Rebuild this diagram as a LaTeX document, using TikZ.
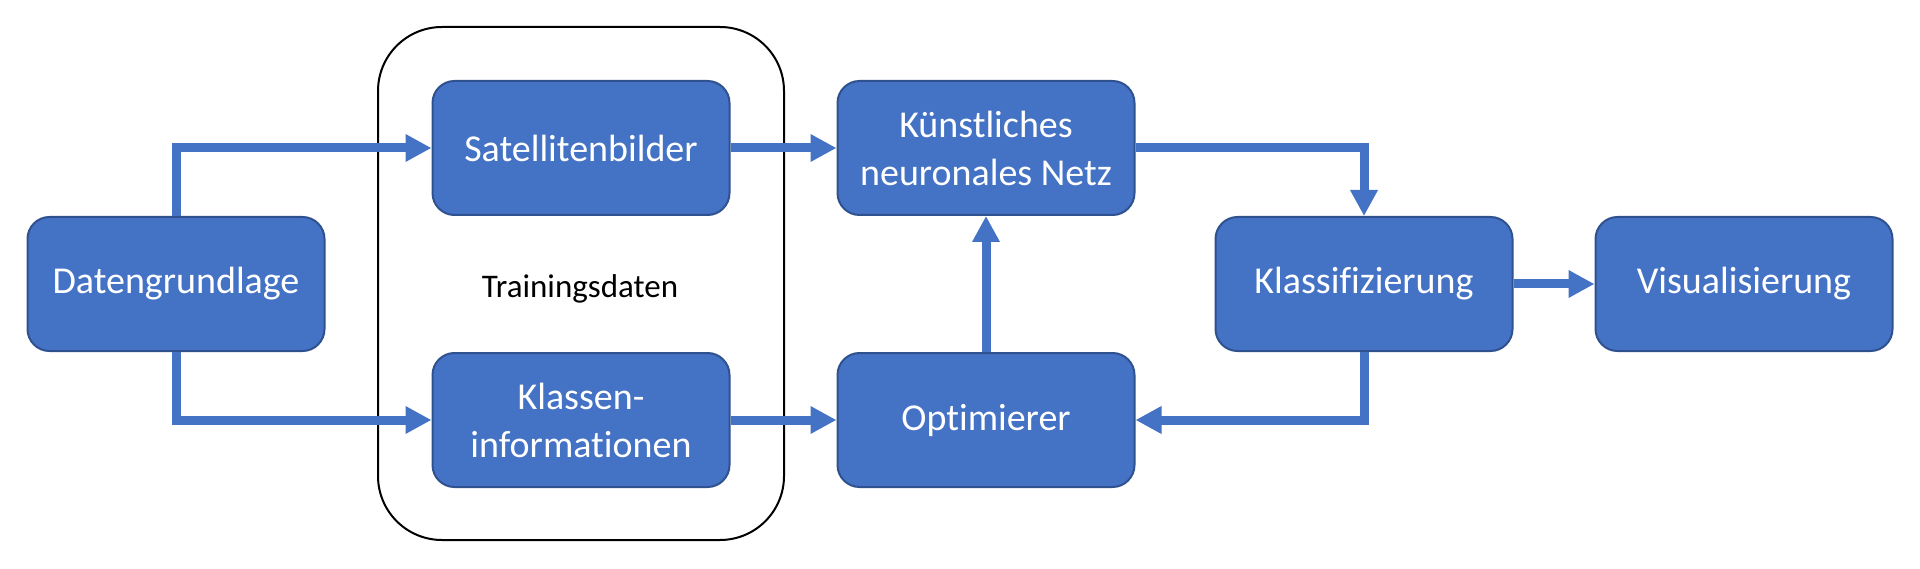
\documentclass[tikz,border=0pt]{standalone}
\usepackage{fontspec}
\setmainfont{Carlito}[Ligatures=NoCommon]
\usepackage{tikz}
\usetikzlibrary{arrows.meta}

\definecolor{boxblue}{HTML}{4472C4}
\definecolor{boxline}{HTML}{2F528F}

\begin{document}
\begin{tikzpicture}[x=1pt, y=1pt,
		block/.style={draw=boxline, line width=1pt, fill=boxblue, rounded corners=11pt,
			minimum width=148.5pt, minimum height=67pt, inner sep=0pt, align=center,
			text=white, font=\fontsize{19}{24}\selectfont},
		flow/.style={draw=boxblue, line width=4.5pt, line join=miter,
			-{Triangle[length=13pt, width=13pt]}}]
		\useasboundingbox (0, 0) rectangle (960, 284);

		% Trainingsdaten
		\draw[line width=1pt, rounded corners=32pt] (189, 14) rectangle (392, 270.5);
		\node (train) at (290, 139.5) {\fontsize{16.5}{20}\selectfont Trainingsdaten};

		\node[block] (dat) at (88, 142) {Datengrundlage};
		\node[block] (sat) at (290.5, 210) {Satellitenbilder};
		\node[block] (kla) at (290.5, 74) {Klassen-\\informationen};
		\node[block] (knn) at (493, 210) {Künstliches\\neuronales Netz};
		\node[block] (opt) at (493, 74) {Optimierer};
		\node[block] (klf) at (682, 142) {Klassifizierung};
		\node[block] (vis) at (872, 142) {Visualisierung};

		\draw[flow] (dat.north) |- (sat.west);
		\draw[flow] (dat.south) |- (kla.west);
		\draw[flow] (sat) -- (knn);
		\draw[flow] (kla) -- (opt);
		\draw[flow] (opt) -- (knn);
		\draw[flow] (knn.east) -| (klf.north);
		\draw[flow] (klf.south) |- (opt.east);
		\draw[flow] (klf) -- (vis);
	\end{tikzpicture}
\end{document}
